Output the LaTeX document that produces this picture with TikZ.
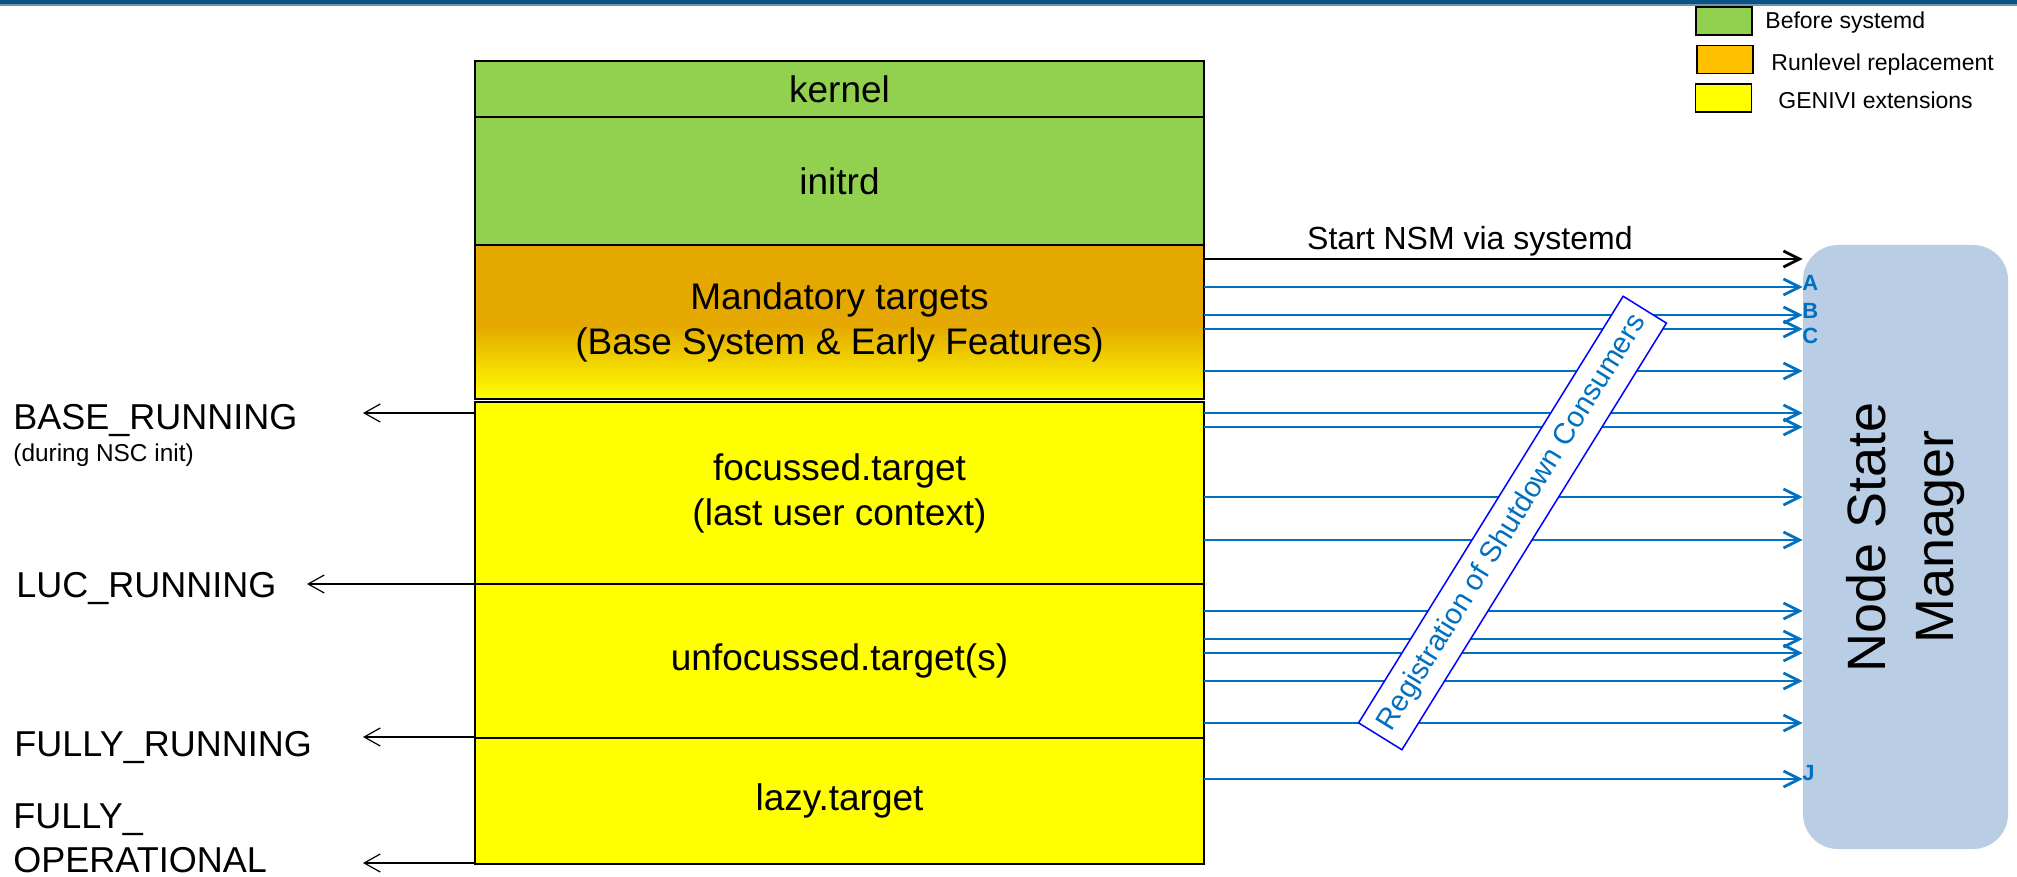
\documentclass[tikz,border=0pt]{standalone}
\usepackage{fontspec}
\setmainfont{Liberation Sans}
\usepackage{xcolor}
\usetikzlibrary{positioning,arrows.meta}

\definecolor{bootgreen}{RGB}{146,208,80}
\definecolor{runorange}{RGB}{255,192,0}
\definecolor{mandorange}{RGB}{228,168,0}
\definecolor{geniviyellow}{RGB}{255,255,0}
\definecolor{nsmblue}{RGB}{185,205,228}
\definecolor{sigblue}{RGB}{0,112,192}
\definecolor{barblue}{RGB}{11,82,132}
\definecolor{barline}{RGB}{110,150,170}

% orange on top, running into yellow in the lower half
\pgfdeclareverticalshading{mandshade}{100bp}{color(0bp)=(geniviyellow); color(25bp)=(geniviyellow);
	color(49bp)=(mandorange); color(100bp)=(mandorange)}

\tikzset{
	stackbox/.style={draw, line width=1pt, outer sep=0pt, inner sep=0pt,
		minimum width=364.5pt, align=center, font=\fontsize{18.5}{22.5}\selectfont},
	statelabel/.style={anchor=base west, inner sep=0pt, align=left,
		font=\fontsize{18}{22}\selectfont},
	statearrow/.style={-{Straight Barb[length=8pt,width=9pt]}, line width=0.6pt},
	nsmcall/.style={-{Straight Barb[length=8pt,width=8pt]}, line width=1.4pt},
	regcall/.style={nsmcall, sigblue},
	calltag/.style={inner sep=0pt, anchor=west, text=sigblue,
		font=\fontsize{11}{13}\selectfont\bfseries},
	legendbox/.style={draw, line width=0.8pt, minimum width=28pt, minimum height=14pt, inner sep=0pt},
	legendtext/.style={inner sep=0pt, anchor=west, font=\fontsize{11.5}{14}\selectfont},
}

\begin{document}
\begin{tikzpicture}[x=0.5pt,y=-0.5pt]
	\useasboundingbox (0,0) rectangle (2017,877);
	% header strip
	\fill[barblue] (0,0) rectangle (2017,5);
	\draw[barline, line width=1pt] (0,5.5) -- (2017,5.5);

	% legend
	\node[legendbox, fill=bootgreen] (lgreen) at (1724,21) {};
	\node[legendbox, fill=runorange] (lorange) at (1725,59.5) {};
	\node[legendbox, fill=geniviyellow] (lyellow) at (1723.5,98) {};
	\node[legendtext] (tgreen) at (1765,23) {Before systemd};
	\node[legendtext] (torange) at (1771,65) {Runlevel replacement};
	\node[legendtext] (tyellow) at (1778,100) {GENIVI extensions};

	% boot stack
	\node[stackbox, fill=bootgreen, minimum height=28pt] (kernel) at (839.5,89) {kernel};
	\node[stackbox, fill=bootgreen, minimum height=64pt, below=0pt of kernel] (initrd) {initrd};
	\node[stackbox, shade, shading=mandshade, minimum height=77pt, below=0pt of initrd]
		(mand) {Mandatory targets\\(Base System \& Early Features)};
	\node[stackbox, fill=geniviyellow, minimum height=91pt, below=1.5pt of mand] (foc) {focussed.target\\(last user context)};
	\node[stackbox, fill=geniviyellow, minimum height=77pt, below=0pt of foc] (unfoc) {unfocussed.target(s)};
	\node[stackbox, fill=geniviyellow, minimum height=63pt, below=0pt of unfoc] (lazy) {lazy.target};

	% node states on the left
	\node[statelabel] (baserun) at (13,429) {BASE\_RUNNING};
	\node[statelabel, font=\fontsize{12.2}{14}\selectfont] (nscinit) at (13,461) {(during NSC init)};
	\node[statelabel] (lucrun) at (16,597) {LUC\_RUNNING};
	\node[statelabel] (fullrun) at (14,756) {FULLY\_RUNNING};
	\node[statelabel] (fullop) at (13,872) {FULLY\_\\OPERATIONAL};

	\coordinate (base) at (363,413);
	\coordinate (luc) at (307,584);
	\coordinate (full) at (363,737);
	\coordinate (oper) at (363,863);
	\draw[statearrow] (foc.west |- base) -- (base);
	\draw[statearrow] (foc.west |- luc) -- (luc);
	\draw[statearrow] (lazy.west |- full) -- (full);
	\draw[statearrow] (lazy.west |- oper) -- (oper);

	% node state manager
	\node[fill=nsmblue, rounded corners=17.5pt, minimum width=102.5pt, minimum height=302pt, inner sep=0pt]
		(nsm) at (1905.5,547) {\raisebox{5pt}[\height][\depth]{\rotatebox{90}{\fontsize{27}{34}\selectfont
			\begin{tabular}{@{}c@{}}Node State\\Manager\end{tabular}}}};

	% start of the NSM
	\path (0,259) coordinate (start);
	\draw[nsmcall] (mand.east |- start) -- (nsm.west |- start)
		node[pos=0.17, anchor=base west, yshift=4.75pt, inner sep=0pt, font=\fontsize{16}{19}\selectfont] (startlbl) {Start NSM via systemd};

	% shutdown consumer registrations
	\foreach \y in {287,315,329,371,413,427,497,540,611,639,653,681,723,779} {
		\path (0,\y) coordinate (lev);
		\draw[regcall] (mand.east |- lev) -- (nsm.west |- lev);
	}
	\node[calltag] (tagA) at (1802,283) {A};
	\node[calltag] (tagB) at (1802,311) {B};
	\node[calltag] (tagC) at (1802,336) {C};
	\node[calltag] (tagJ) at (1802,773) {J};

	\node[draw=blue, fill=white, line width=0.75pt, rotate=58.2, minimum width=251pt, minimum height=25.5pt,
		inner sep=0pt, text=sigblue, font=\fontsize{14.6}{17}\selectfont]
		(reg) at (1512.5,523) {Registration of Shutdown Consumers};
\end{tikzpicture}
\end{document}
